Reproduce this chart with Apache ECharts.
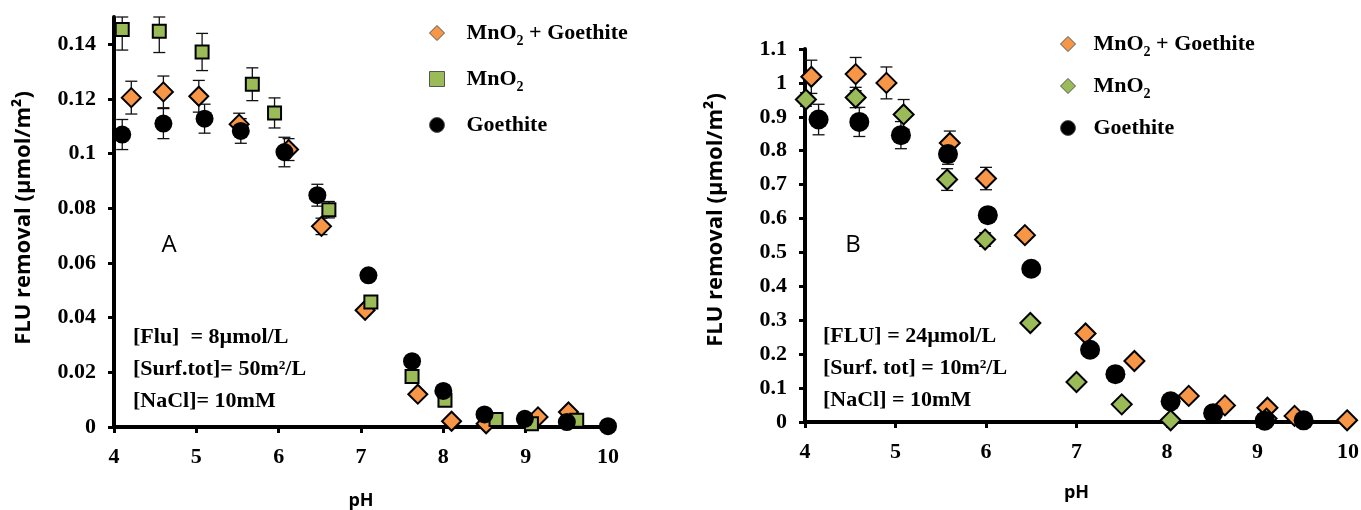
<!DOCTYPE html>
<html>
<head>
<meta charset="utf-8">
<script src="https://cdn.jsdelivr.net/npm/echarts@6/dist/echarts.min.js"></script>
<style>
  html, body { margin: 0; background: #fff; }
  #chart { width: 1361px; height: 510px; }
</style>
</head>
<body>
<div id="chart"></div>
<script>
// ---- panel A (50 m2/L) ----
const aMixPH  = [4.21, 4.6, 5.03, 5.52, 6.12, 6.52, 7.05, 7.69, 8.1, 8.52, 9.15, 9.52];
const aMixVal = [0.1205, 0.1226, 0.121, 0.1108, 0.1015, 0.0734, 0.0427, 0.012, 0.0021, 0.0012, 0.0037, 0.0055];
const aMixErr = [0.006, 0.0058, 0.0058, 0.004, 0.004, 0.003, 0, 0, 0, 0, 0, 0];

const aMnPH  = [4.1, 4.55, 5.07, 5.68, 5.95, 6.61, 7.12, 7.62, 8.02, 8.64, 9.07, 9.62];
const aMnVal = [0.1454, 0.1448, 0.1372, 0.1254, 0.1149, 0.0795, 0.0457, 0.0185, 0.0098, 0.0027, 0.0012, 0.0025];
const aMnErr = [0.0075, 0.0078, 0.0068, 0.006, 0.0055, 0.003, 0, 0, 0, 0, 0, 0];

const aGoePH  = [4.1, 4.6, 5.1, 5.54, 6.07, 6.47, 7.09, 7.62, 8.0, 8.5, 8.99, 9.5, 10.0];
const aGoeVal = [0.107, 0.111, 0.1128, 0.1083, 0.1006, 0.0848, 0.0555, 0.0241, 0.0132, 0.0046, 0.003, 0.0018, 0.0003];
const aGoeErr = [0.0055, 0.0055, 0.0053, 0.0045, 0.0054, 0.004, 0, 0, 0, 0, 0, 0, 0];

// ---- panel B (10 m2/L) ----
const bMixPH  = [4.07, 4.56, 4.9, 5.6, 6.0, 6.43, 7.1, 7.64, 8.24, 8.64, 9.11, 9.41, 9.99];
const bMixVal = [1.018, 1.026, 1.0, 0.823, 0.718, 0.551, 0.261, 0.18, 0.077, 0.049, 0.042, 0.018, 0.005];
const bMixErr = [0.049, 0.049, 0.047, 0.035, 0.033, 0.015, 0, 0, 0, 0, 0, 0, 0];

const bMnPH  = [4.01, 4.56, 5.09, 5.57, 5.99, 6.49, 7.0, 7.5, 8.04, 9.1];
const bMnVal = [0.951, 0.957, 0.907, 0.715, 0.538, 0.292, 0.118, 0.052, 0.005, 0.01];
const bMnErr = [0.02, 0.03, 0.044, 0.032, 0.02, 0, 0, 0, 0, 0];

const bGoePH  = [4.15, 4.6, 5.06, 5.58, 6.02, 6.5, 7.15, 7.43, 8.04, 8.51, 9.08, 9.51];
const bGoeVal = [0.892, 0.885, 0.846, 0.79, 0.61, 0.452, 0.213, 0.141, 0.061, 0.026, 0.004, 0.005];
const bGoeErr = [0.045, 0.043, 0.04, 0.03, 0.02, 0, 0, 0, 0, 0, 0, 0];

// ticks
const phTicks = [4, 5, 6, 7, 8, 9, 10];
const yTicksA = [0, 0.02, 0.04, 0.06, 0.08, 0.1, 0.12, 0.14];
const yTicksB = [0, 0.1, 0.2, 0.3, 0.4, 0.5, 0.6, 0.7, 0.8, 0.9, 1, 1.1];

const ORANGE = '#F79646';
const GREEN = '#9BBB59';
const serif = '"Liberation Serif", "Times New Roman", serif';
const sans = '"Open Sans", "DejaVu Sans", sans-serif';

const pairs = (xs, ys) => xs.map((x, i) => [x, ys[i]]);
const triples = (xs, ys, es) => xs.map((x, i) => [x, ys[i], es[i]]);

// vertical error bars with caps
function errorSeries(idx, xs, ys, es, yMax) {
  return {
    type: 'custom',
    xAxisIndex: idx,
    yAxisIndex: idx,
    z: 1,
    silent: true,
    data: triples(xs, ys, es).filter(d => d[2] > 0),
    renderItem: function (params, api) {
      const x = api.value(0), y = api.value(1), e = api.value(2);
      const top = api.coord([x, Math.min(y + e, yMax)]);
      const bot = api.coord([x, y - e]);
      const w = 6;
      const st = { stroke: '#111', lineWidth: 1.3 };
      return {
        type: 'group',
        children: [
          { type: 'line', shape: { x1: top[0], y1: top[1], x2: bot[0], y2: bot[1] }, style: st },
          { type: 'line', shape: { x1: top[0] - w, y1: top[1], x2: top[0] + w, y2: top[1] }, style: st },
          { type: 'line', shape: { x1: bot[0] - w, y1: bot[1], x2: bot[0] + w, y2: bot[1] }, style: st }
        ]
      };
    }
  };
}

function scatter(idx, name, xs, ys, symbol, size, color, z) {
  return {
    type: 'scatter',
    name: name,
    xAxisIndex: idx,
    yAxisIndex: idx,
    symbol: symbol,
    symbolSize: size,
    z: z,
    itemStyle: { color: color, borderColor: '#000', borderWidth: symbol === 'circle' ? 0 : 2, opacity: 1 },
    data: pairs(xs, ys)
  };
}

const axisCommon = {
  axisLine: { lineStyle: { color: '#000', width: 4 } },
  axisTick: { lineStyle: { color: '#000', width: 3 }, length: 6 },
  splitLine: { show: false },
  axisLabel: { color: '#000', fontFamily: serif, fontWeight: 'bold', fontSize: 22 }
};

function xAxis(idx, gap) {
  return Object.assign({}, axisCommon, {
    type: 'value', gridIndex: idx, min: 4, max: 10, interval: 1,
    name: 'pH', nameLocation: 'middle', nameGap: gap,
    nameTextStyle: { color: '#000', fontFamily: sans, fontWeight: 'bold', fontSize: 18 },
    axisTick: Object.assign({}, axisCommon.axisTick, { customValues: phTicks }),
    axisLabel: Object.assign({}, axisCommon.axisLabel, { margin: 19, customValues: phTicks })
  });
}

function yAxis(idx, max, interval, ticks) {
  return Object.assign({}, axisCommon, {
    type: 'value', gridIndex: idx, min: 0, max: max, interval: interval,
    axisTick: Object.assign({}, axisCommon.axisTick, { customValues: ticks }),
    axisLabel: Object.assign({}, axisCommon.axisLabel, { margin: 18, customValues: ticks })
  });
}

const legendRich = {
  n: { fontFamily: serif, fontWeight: 'bold', fontSize: 22, color: '#000' },
  s: { fontFamily: serif, fontWeight: 'bold', fontSize: 14, color: '#000', padding: [16, 0, 0, 0] }
};
function legendFmt(name) {
  if (name === 'MnO2 + Goethite') return '{n|MnO}{s|2}{n| + Goethite}';
  if (name === 'MnO2') return '{n|MnO}{s|2}';
  return '{n|' + name + '}';
}

const chart = echarts.init(document.getElementById('chart'));
chart.setOption({
  backgroundColor: '#fff',
  animation: false,
  grid: [
    { left: 114, top: 17, width: 494, height: 410, outerBoundsMode: 'none', containLabel: false },
    { left: 805, top: 49, width: 543, height: 373, outerBoundsMode: 'none', containLabel: false }
  ],
  xAxis: [xAxis(0, 65), xAxis(1, 62)],
  yAxis: [yAxis(0, 0.15, 0.01, yTicksA), yAxis(1, 1.1, 0.1, yTicksB)],
  legend: [
    {
      orient: 'vertical', left: 424, top: 17, itemGap: 20, itemWidth: 15, itemHeight: 15,
      itemStyle: { borderColor: '#555', borderWidth: 1 },
      textStyle: { padding: [0, 0, 0, 17], rich: legendRich },
      formatter: legendFmt,
      data: [
        { name: 'MnO2 + Goethite', icon: 'diamond' },
        { name: 'MnO2', icon: 'rect' },
        { name: 'Goethite', icon: 'circle' }
      ]
    },
    {
      orient: 'vertical', left: 1055, top: 28, itemGap: 16, itemWidth: 15, itemHeight: 15,
      itemStyle: { borderColor: '#555', borderWidth: 1 },
      textStyle: { padding: [0, 0, 0, 13], rich: legendRich },
      formatter: legendFmt,
      data: [
        { name: 'MnO2 + Goethite', icon: 'diamond' },
        { name: 'MnO2', icon: 'diamond' },
        { name: 'Goethite', icon: 'circle' }
      ]
    }
  ],
  graphic: [
    { type: 'text', x: 24, y: 218, rotation: Math.PI / 2,
      style: { text: 'FLU removal (µmol/m²)', fontFamily: sans, fontWeight: 'bold', fontSize: 22, fill: '#000', align: 'center', verticalAlign: 'middle' } },
    { type: 'text', x: 716, y: 220, rotation: Math.PI / 2,
      style: { text: 'FLU removal (µmol/m²)', fontFamily: sans, fontWeight: 'bold', fontSize: 22, fill: '#000', align: 'center', verticalAlign: 'middle' } },
    { type: 'text', x: 169, y: 245,
      style: { text: 'A', fontFamily: sans, fontSize: 24, fill: '#000', align: 'center', verticalAlign: 'middle' } },
    { type: 'text', x: 853, y: 245,
      style: { text: 'B', fontFamily: sans, fontSize: 24, fill: '#000', align: 'center', verticalAlign: 'middle' } },
    { type: 'text', x: 133, y: 321,
      style: { text: '[Flu]  = 8µmol/L\n[Surf.tot]= 50m²/L\n[NaCl]= 10mM', fontFamily: serif, fontWeight: 'bold', fontSize: 22, lineHeight: 32, fill: '#000' } },
    { type: 'text', x: 823, y: 320,
      style: { text: '[FLU] = 24µmol/L\n[Surf. tot] = 10m²/L\n[NaCl] = 10mM', fontFamily: serif, fontWeight: 'bold', fontSize: 22, lineHeight: 32, fill: '#000' } }
  ],
  series: [
    errorSeries(0, aMixPH, aMixVal, aMixErr, 0.15),
    errorSeries(0, aMnPH, aMnVal, aMnErr, 0.15),
    errorSeries(0, aGoePH, aGoeVal, aGoeErr, 0.15),
    scatter(0, 'MnO2 + Goethite', aMixPH, aMixVal, 'diamond', 19, ORANGE, 3),
    scatter(0, 'MnO2', aMnPH, aMnVal, 'rect', 13, GREEN, 4),
    scatter(0, 'Goethite', aGoePH, aGoeVal, 'circle', 18, '#000', 5),

    errorSeries(1, bMixPH, bMixVal, bMixErr, 1.1),
    errorSeries(1, bMnPH, bMnVal, bMnErr, 1.1),
    errorSeries(1, bGoePH, bGoeVal, bGoeErr, 1.1),
    scatter(1, 'MnO2 + Goethite', bMixPH, bMixVal, 'diamond', 20, ORANGE, 3),
    scatter(1, 'MnO2', bMnPH, bMnVal, 'diamond', 20, GREEN, 4),
    scatter(1, 'Goethite', bGoePH, bGoeVal, 'circle', 20, '#000', 5)
  ]
});
</script>
</body>
</html>
